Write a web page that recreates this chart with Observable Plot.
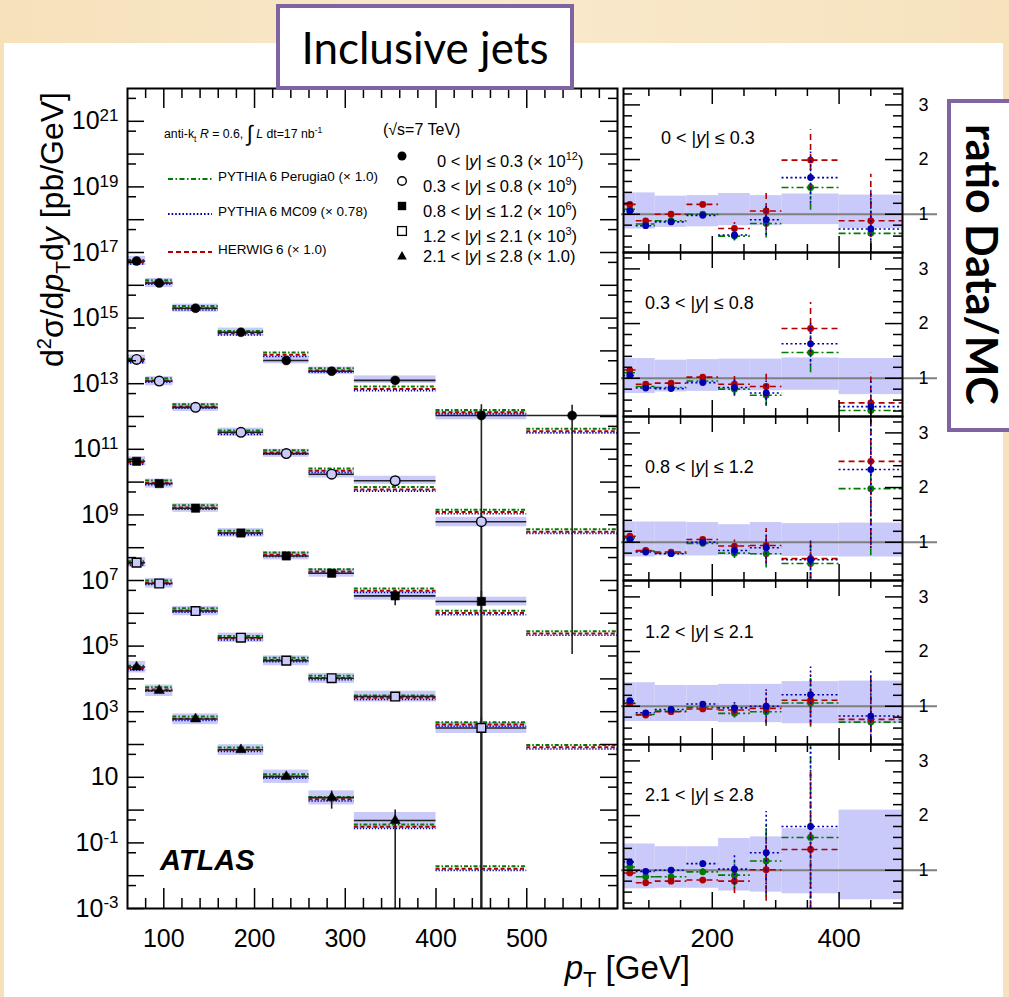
<!DOCTYPE html>
<html><head><meta charset="utf-8">
<script src="https://cdn.jsdelivr.net/npm/d3@7"></script>
<script src="https://cdn.jsdelivr.net/npm/@observablehq/plot@0.6"></script>
<style>
body{margin:0;}
#root{position:relative;width:1009px;height:997px;overflow:hidden;background:linear-gradient(90deg,#f6e1ba,#f9e9cc 50%,#f6e2bd);font-family:"Liberation Sans",Arial,sans-serif;color:#000;}
.abs{position:absolute;white-space:nowrap;}
</style></head><body><div id="root"></div><script>
// ---------------- data ----------------
const binLo  = [60, 80, 110, 160, 210, 260, 310, 400, 500];
const binHi  = [80, 110, 160, 210, 260, 310, 400, 500, 600];
const binMid = [70, 95, 135, 185, 235, 285, 355, 450, 550];

const rapidityBins = ["0 < |y| ≤ 0.3", "0.3 < |y| ≤ 0.8", "0.8 < |y| ≤ 1.2", "1.2 < |y| ≤ 2.1", "2.1 < |y| ≤ 2.8"];
const scaleFactors = ["(× 10^12)", "(× 10^9)", "(× 10^6)", "(× 10^3)", "(× 1.0)"];
const generators = ["PYTHIA 6 Perugia0 (× 1.0)", "PYTHIA 6 MC09 (× 0.78)", "HERWIG 6 (× 1.0)"];

// measured cross sections (already multiplied by the scale factor), pb/GeV
const data_y03 = [5.5e16, 1.17e16, 2.0e15, 3.7e14, 5.1e13, 2.4e13, 1.26e13, 1.07e12, 1.07e12];
const data_y08 = [5.5e13, 1.2e13, 1.9e12, 3.3e11, 7.4e10, 1.74e10, 1.1e10, 6.2e8, null];
const data_y12 = [4.3e10, 9.0e9, 1.6e9, 2.8e8, 5.6e7, 1.66e7, 3.4e6, 2.3e6, null];
const data_y21 = [3.5e7, 8.1e6, 1.17e6, 1.8e5, 3.6e4, 1.05e4, 2.9e3, 3.2e2, null];
const data_y28 = [2.3e4, 4.4e3, 6.0e2, 69, 10.5, 2.4, 0.48, null, null];

// MC prediction level in the main panel
const mc_y03 = [5.2e16, 1.26e16, 2.05e15, 3.55e14, 7.9e13, 2.6e13, 7.2e12, 1.4e12, 3.7e11];
const mc_y08 = [5.1e13, 1.3e13, 2.1e12, 3.3e11, 8.3e10, 2.3e10, 6.2e9, 1.26e9, 3.2e8];
const mc_y12 = [4.1e10, 9.8e9, 1.75e9, 2.9e8, 6.3e7, 1.95e7, 5.0e6, 1.05e6, 2.5e5];
const mc_y21 = [3.4e7, 8.8e6, 1.25e6, 1.8e5, 3.9e4, 1.1e4, 2.75e3, 4.2e2, 85];
const mc_y28 = [2.2e4, 4.9e3, 6.3e2, 72, 11, 2.2, 0.32, 0.017, null];

// visible statistical error bars in the main panel (1e-5 = consistent with zero)
const errLo_y03 = [null, null, null, null, null, null, null, 1e-5, 5.5e4];
const errHi_y03 = [null, null, null, null, null, null, null, 2.3e12, 2.2e12];
const errLo_y08 = [null, null, null, null, null, null, null, 1e-5, null];
const errHi_y08 = [null, null, null, null, null, null, null, 1.25e9, null];
const errLo_y12 = [null, null, null, null, null, null, 1.7e6, 1e-5, null];
const errHi_y12 = [null, null, null, null, null, null, 5.0e6, 4.6e6, null];
const errLo_y21 = [null, null, null, null, null, null, null, 1e-5, null];
const errHi_y21 = [null, null, null, null, null, null, null, 6.5e2, null];
const errLo_y28 = [null, null, null, null, null, 1.07, 1e-5, null, null];
const errHi_y28 = [null, null, null, null, null, 3.8, 1.0, null, null];

// ratio Data/MC (bins 60-500 GeV)
const herwig_y03  = [1.18, 0.88, 1.00, 1.18, 0.74, 1.06, 1.99, 0.88];
const mc09_y03    = [1.06, 0.79, 0.86, 0.98, 0.62, 0.90, 1.67, 0.73];
const perugia_y03 = [1.09, 0.82, 0.88, 1.00, 0.60, 0.83, 1.49, 0.65];
const herwig_y08  = [1.15, 0.89, 0.91, 1.02, 0.89, 0.85, 1.91, 0.55];
const mc09_y08    = [1.05, 0.82, 0.81, 0.92, 0.83, 0.73, 1.63, 0.48];
const perugia_y08 = [1.10, 0.85, 0.83, 0.95, 0.80, 0.69, 1.47, 0.41];
const herwig_y12  = [1.11, 0.85, 0.82, 1.05, 0.93, 0.94, 0.70, 2.48];
const mc09_y12    = [1.05, 0.82, 0.79, 1.00, 0.85, 0.90, 0.68, 2.33];
const perugia_y12 = [1.08, 0.84, 0.80, 0.98, 0.80, 0.79, 0.61, 1.98];
const herwig_y21  = [1.05, 0.84, 0.90, 0.95, 0.93, 0.96, 1.11, 0.76];
const mc09_y21    = [1.10, 0.88, 0.94, 1.04, 0.97, 1.00, 1.21, 0.82];
const perugia_y21 = [1.06, 0.85, 0.91, 0.98, 0.87, 0.90, 1.06, 0.71];
const herwig_y28  = [0.95, 0.77, 0.80, 0.82, 0.80, 1.01, 1.38, null];
const mc09_y28    = [1.15, 0.98, 1.00, 1.12, 1.02, 1.32, 1.80, null];
const perugia_y28 = [1.06, 0.88, 0.88, 0.97, 0.91, 1.17, 1.60, null];

// relative statistical uncertainty of the data (ratio error bars)
const stat_y03 = [0.02, 0.02, 0.03, 0.03, 0.15, 0.32, 0.28, 0.97];
const stat_y08 = [0.02, 0.02, 0.03, 0.03, 0.17, 0.30, 0.25, 1.0];
const stat_y12 = [0.02, 0.02, 0.03, 0.03, 0.12, 0.33, 0.52, 0.62];
const stat_y21 = [0.02, 0.02, 0.03, 0.04, 0.10, 0.30, 0.42, 1.05];
const stat_y28 = [0.02, 0.03, 0.03, 0.06, 0.28, 0.57, 1.05, null];

// systematic uncertainty band (relative lower / upper edge)
const sysLo_y03 = [0.73, 0.73, 0.76, 0.77, 0.79, 0.79, 0.81, 0.74];
const sysHi_y03 = [1.39, 1.39, 1.33, 1.34, 1.38, 1.34, 1.37, 1.35];
const sysLo_y08 = [0.72, 0.72, 0.75, 0.76, 0.77, 0.77, 0.78, 0.70];
const sysHi_y08 = [1.36, 1.36, 1.33, 1.34, 1.35, 1.35, 1.37, 1.36];
const sysLo_y12 = [0.73, 0.73, 0.75, 0.75, 0.76, 0.76, 0.74, 0.73];
const sysHi_y12 = [1.37, 1.37, 1.37, 1.36, 1.32, 1.36, 1.34, 1.35];
const sysLo_y21 = [0.72, 0.72, 0.72, 0.72, 0.70, 0.70, 0.68, 0.68];
const sysHi_y21 = [1.43, 1.43, 1.38, 1.38, 1.40, 1.40, 1.45, 1.46];
const sysLo_y28 = [0.66, 0.66, 0.67, 0.67, 0.62, 0.60, 0.57, 0.46];
const sysHi_y28 = [1.48, 1.48, 1.43, 1.43, 1.58, 1.61, 1.76, 2.10];

// axis tick labels
const yTickExponents = [-3, -1, 1, 3, 5, 7, 9, 11, 13, 15, 17, 19, 21];
const xTickLabels = [100, 200, 300, 400, 500];
const ratioXTickLabels = [200, 400];
const ratioYTickLabels = [1, 2, 3];

// ---------------- styling ----------------
const BAND = "rgb(201,201,250)";
const GREEN = "#007a00", BLUE = "#0000b0", RED = "#b00000";
const FONT = "Liberation Sans, Arial, sans-serif";
const root = document.getElementById("root");
const NS = "http://www.w3.org/2000/svg";

function rich(svg) {
  svg.querySelectorAll("text").forEach(t => {
    const s = t.textContent;
    if (!s.includes("^")) return;
    const i = s.indexOf("^");
    t.textContent = "";
    const a = document.createElementNS(NS, "tspan"); a.textContent = s.slice(0, i);
    const b = document.createElementNS(NS, "tspan"); b.textContent = s.slice(i + 1);
    b.setAttribute("dy", "-0.48em"); b.setAttribute("font-size", "68%");
    t.append(a, b);
  });
}
function place(el, left, top) {
  el.style.position = "absolute"; el.style.left = left + "px"; el.style.top = top + "px";
  root.appendChild(el); return el;
}
function html(left, top, inner, style = "") {
  const d = document.createElement("div");
  d.className = "abs"; d.style.cssText += `left:${left}px;top:${top}px;${style}`;
  d.innerHTML = inner; root.appendChild(d); return d;
}

// white sheet
html(4, 43, "", "width:999px;height:960px;background:#fff;");

// ---------------- main panel ----------------
const series = [
  {data: data_y03, mc: mc_y03, eLo: errLo_y03, eHi: errHi_y03, sLo: sysLo_y03, sHi: sysHi_y03, symbol: "circle", filled: true, r: 4.5},
  {data: data_y08, mc: mc_y08, eLo: errLo_y08, eHi: errHi_y08, sLo: sysLo_y08, sHi: sysHi_y08, symbol: "circle", filled: false, r: 4.8},
  {data: data_y12, mc: mc_y12, eLo: errLo_y12, eHi: errHi_y12, sLo: sysLo_y12, sHi: sysHi_y12, symbol: "square", filled: true, r: 4.7},
  {data: data_y21, mc: mc_y21, eLo: errLo_y21, eHi: errHi_y21, sLo: sysLo_y21, sHi: sysHi_y21, symbol: "square", filled: false, r: 4.9},
  {data: data_y28, mc: mc_y28, eLo: errLo_y28, eHi: errHi_y28, sLo: sysLo_y28, sHi: sysHi_y28, symbol: "triangle", filled: true, r: 3.8}
];
const rows = [];
series.forEach((s, si) => binLo.forEach((lo, i) => rows.push({
  si, lo, hi: binHi[i], mid: binMid[i], v: s.data[i], mc: s.mc[i],
  eLo: s.eLo[i], eHi: s.eHi[i], sLo: s.sLo[i], sHi: s.sHi[i]
})));
const dataRows = rows.filter(d => d.v != null);
const mcRows = rows.filter(d => d.mc != null);
const bandRows = dataRows.filter(d => d.sLo != null);
const errRows = rows.filter(d => d.eLo != null);

const W = 640, H = 997, ML = 127, MR = 23, MT = 88, MB = 89;
const FW = W - ML - MR, FH = H - MT - MB;
const decades = d3.range(-3, 22).map(e => +("1e" + e));
const halfDecades = d3.range(-3, 22).map(e => +("5e" + e));
const xMinor = d3.range(80, 600, 20).filter(v => v % 100 !== 0);
const xMajor = d3.range(100, 600, 100);

const dotMarks = series.map((s, si) => Plot.dot(dataRows.filter(d => d.si === si), {
  x: "mid", y: "v", symbol: s.symbol, r: s.r,
  fill: s.filled ? "black" : BAND, stroke: "black", strokeWidth: s.filled ? 0.5 : 1.4
}));

const mainPlot = Plot.plot({
  width: W, height: H, marginLeft: ML, marginRight: MR, marginTop: MT, marginBottom: MB,
  x: {type: "linear", domain: [60, 600]},
  y: {type: "log", domain: [1e-3, 1e22]},
  style: {background: "transparent", fontFamily: FONT, color: "black", overflow: "visible"},
  marks: [
    Plot.rect(bandRows, {x1: "lo", x2: "hi", y1: d => d.v * d.sLo, y2: d => d.v * d.sHi, fill: BAND}),
    Plot.ruleY(mcRows, {x1: "lo", x2: "hi", y: "mc", stroke: RED, strokeWidth: 2, strokeDasharray: "4,2.5", dy: 0.5}),
    Plot.ruleY(mcRows, {x1: "lo", x2: "hi", y: "mc", stroke: GREEN, strokeWidth: 2, strokeDasharray: "4,2,1.5,2", dy: -1.8}),
    Plot.ruleY(mcRows, {x1: "lo", x2: "hi", y: "mc", stroke: BLUE, strokeWidth: 1.6, strokeDasharray: "1.3,1.7", dy: 2.2}),
    Plot.ruleY(dataRows, {x1: "lo", x2: "hi", y: "v", stroke: "#222", strokeWidth: 1.6}),
    Plot.ruleX(errRows, {x: "mid", y1: "eLo", y2: "eHi", stroke: "#222", strokeWidth: 1.6, clip: true}),
    ...dotMarks,
    Plot.tickY(decades, {y: d => d, insetRight: FW - 17, strokeWidth: 1.5}),
    Plot.tickY(halfDecades, {y: d => d, insetRight: FW - 9, strokeWidth: 1.5}),
    Plot.tickY(decades, {y: d => d, insetLeft: FW - 17, strokeWidth: 1.5}),
    Plot.tickY(halfDecades, {y: d => d, insetLeft: FW - 9, strokeWidth: 1.5}),
    Plot.tickX(xMajor, {x: d => d, insetTop: FH - 20, strokeWidth: 1.5}),
    Plot.tickX(xMinor, {x: d => d, insetTop: FH - 10, strokeWidth: 1.5}),
    Plot.tickX(xMajor, {x: d => d, insetBottom: FH - 20, strokeWidth: 1.5}),
    Plot.tickX(xMinor, {x: d => d, insetBottom: FH - 10, strokeWidth: 1.5}),
    Plot.frame({stroke: "black", strokeWidth: 2}),
    Plot.axisY(yTickExponents.map(e => +("1e" + e)), {anchor: "left", tickSize: 0, tickPadding: 9, fontSize: 25, label: null,
      tickFormat: d => { const e = Math.round(Math.log10(d)); return e === 1 ? "10" : "10^" + e; }}),
    Plot.axisX(xTickLabels, {anchor: "bottom", tickSize: 0, tickPadding: 21, fontSize: 25, label: null})
  ]
});
rich(mainPlot);
place(mainPlot, 0, 0);

// ---------------- ratio panels ----------------
const panels = [
  {herwig: herwig_y03, mc09: mc09_y03, perugia: perugia_y03, stat: stat_y03, sLo: sysLo_y03, sHi: sysHi_y03},
  {herwig: herwig_y08, mc09: mc09_y08, perugia: perugia_y08, stat: stat_y08, sLo: sysLo_y08, sHi: sysHi_y08},
  {herwig: herwig_y12, mc09: mc09_y12, perugia: perugia_y12, stat: stat_y12, sLo: sysLo_y12, sHi: sysHi_y12},
  {herwig: herwig_y21, mc09: mc09_y21, perugia: perugia_y21, stat: stat_y21, sLo: sysLo_y21, sHi: sysHi_y21},
  {herwig: herwig_y28, mc09: mc09_y28, perugia: perugia_y28, stat: stat_y28, sLo: sysLo_y28, sHi: sysHi_y28}
];
const genStyle = [
  {key: "perugia", color: GREEN, dash: "7,3,2,3"},
  {key: "herwig", color: RED, dash: "6,4"},
  {key: "mc09", color: BLUE, dash: "2,2.5"}
];
const RW = 360, RML = 23, RMR = 58, PH = 164;
const RFW = RW - RML - RMR;
const rxMinor = [100, 150, 250, 300, 350, 450];
const rxMajor = [200, 400];
const ryMinor = d3.range(4, 33, 2).map(v => v / 10).filter(v => v % 1 !== 0);
const ryMajor = [1, 2, 3];

panels.forEach((p, k) => {
  const last = k === panels.length - 1;
  const mb = last ? 44 : 0;
  const bins = binLo.slice(0, 8).map((lo, i) => ({lo, hi: binHi[i], mid: binMid[i], sLo: p.sLo[i], sHi: p.sHi[i]}));
  const marks = [
    Plot.rect(bins, {x1: "lo", x2: "hi", y1: "sLo", y2: "sHi", fill: BAND}),
    Plot.ruleY([1], {stroke: "#7f7f7f", strokeWidth: 2, insetLeft: -2, insetRight: -35})
  ];
  genStyle.forEach(g => {
    const pts = bins.map((b, i) => ({...b, r: p[g.key][i], s: p.stat[i]})).filter(d => d.r != null);
    marks.push(
      Plot.ruleY(pts, {x1: "lo", x2: "hi", y: "r", stroke: g.color, strokeWidth: 1.6, strokeDasharray: g.dash, clip: true}),
      Plot.ruleX(pts, {x: "mid", y1: d => d.r * (1 - d.s), y2: d => d.r * (1 + d.s), stroke: g.color, strokeWidth: 1.6, strokeDasharray: g.dash, clip: true}),
      Plot.dot(pts, {x: "mid", y: "r", r: 3.4, fill: g.color, clip: true})
    );
  });
  const ph = PH;
  marks.push(
    Plot.tickX(rxMajor, {x: d => d, insetTop: ph - 16, strokeWidth: 1.5}),
    Plot.tickX(rxMinor, {x: d => d, insetTop: ph - 8, strokeWidth: 1.5}),
    Plot.tickX(rxMajor, {x: d => d, insetBottom: ph - 16, strokeWidth: 1.5}),
    Plot.tickX(rxMinor, {x: d => d, insetBottom: ph - 8, strokeWidth: 1.5}),
    Plot.tickY(ryMajor, {y: d => d, insetRight: RFW - 17, strokeWidth: 1.5}),
    Plot.tickY(ryMinor, {y: d => d, insetRight: RFW - 9, strokeWidth: 1.5}),
    Plot.tickY(ryMajor, {y: d => d, insetLeft: RFW - 17, strokeWidth: 1.5}),
    Plot.tickY(ryMinor, {y: d => d, insetLeft: RFW - 9, strokeWidth: 1.5}),
    Plot.frame({stroke: "black", strokeWidth: 2}),
    Plot.axisY(ratioYTickLabels, {anchor: "right", tickSize: 0, tickPadding: 16, fontSize: 18, label: null, tickFormat: d => String(d)})
  );
  if (last) marks.push(Plot.axisX(ratioXTickLabels, {anchor: "bottom", tickSize: 0, tickPadding: 20, fontSize: 26, label: null, tickFormat: d => String(d)}));
  else marks.push(Plot.axisX([], {anchor: "bottom", label: null}));
  const svg = Plot.plot({
    width: RW, height: ph + mb, marginLeft: RML, marginRight: RMR, marginTop: 0, marginBottom: mb,
    x: {type: "linear", domain: [60, 500]},
    y: {type: "linear", domain: [0.3, 3.3]},
    style: {background: "transparent", fontFamily: FONT, color: "black", overflow: "visible"},
    marks
  });
  place(svg, 600, 88 + k * PH);
});

// ---------------- texts & legends ----------------
const panelLabelPos = [[661, 127], [645, 292], [645, 456], [645, 621], [645, 784]];
rapidityBins.forEach((lab, k) => {
  const t = lab.replace("y", "<i>y</i>");
  html(panelLabelPos[k][0], panelLabelPos[k][1], t, "font-size:18px;line-height:22px;");
});

// legend left
html(164, 120, 'anti-k<sub style="font-size:8.5px">t</sub> <i>R</i> = 0.6, <span style="font-size:22px;position:relative;top:3px">∫</span> <i>L</i> dt=17 nb<sup style="font-size:8.5px">-1</sup>', "font-size:12.3px;line-height:20px;");
const legLines = [[GREEN, "5,2.5,1.5,2.5", 177], [BLUE, "1.6,2", 212], [RED, "5,3", 250]];
legLines.forEach(([c, dash, y], i) => {
  html(166, y - 6, `<svg width="48" height="12"><line x1="2" x2="46" y1="6" y2="6" stroke="${c}" stroke-width="2" stroke-dasharray="${dash}"/></svg>`);
  html(218, y - 9, generators[i].replace("PYTHIA 6", "PYTHIA&thinsp;6").replace("HERWIG 6", "HERWIG&thinsp;6"), "font-size:13.5px;line-height:17px;");
});

// legend right
html(383, 120, "(√s=7 TeV)", "font-size:16px;line-height:19px;");
const legRowY = [156, 181, 206, 231, 256];
const legMarkers = [
  '<circle cx="8" cy="8" r="4.5" fill="black"/>',
  '<circle cx="8" cy="8" r="4.3" fill="white" stroke="black" stroke-width="1.4"/>',
  '<rect x="3.8" y="3.8" width="8.4" height="8.4" fill="black"/>',
  '<rect x="3.6" y="3.6" width="8.8" height="8.8" fill="white" stroke="black" stroke-width="1.3"/>',
  '<path d="M8,3 L12.8,11.5 L3.2,11.5 Z" fill="black"/>'
];
rapidityBins.forEach((lab, k) => {
  html(394, legRowY[k] - 8, `<svg width="16" height="16">${legMarkers[k]}</svg>`);
  const sf = scaleFactors[k].replace(/\^(\d+)/, "<sup style='font-size:11px'>$1</sup>");
  html(k === 0 ? 437 : 423, legRowY[k] - 10, lab.replace("y", "<i>y</i>") + " " + sf, "font-size:16.5px;line-height:20px;");
});

// ATLAS
html(160, 843, "ATLAS", "font-size:29px;font-weight:bold;font-style:italic;line-height:34px;");

// axis titles
html(22, 392, '<div style="width:300px;text-align:right;">d<sup style="font-size:20px">2</sup>σ/d<i>p</i><sub style="font-size:21px">T</sub>d<i>y</i> [pb/GeV]</div>',
  "font-size:32px;line-height:44px;transform-origin:0 0;transform:rotate(-90deg);");
html(390, 947, '<div style="width:300px;text-align:right;"><i>p</i><sub style="font-size:22px">T</sub> [GeV]</div>', "font-size:33px;line-height:42px;");

// title boxes
html(276, 4, "Inclusive jets", "box-sizing:border-box;width:298px;height:86px;border:4px solid #8064a2;background:#fff;font-family:Lato,'Open Sans',sans-serif;font-size:44px;line-height:78px;text-align:center;");
html(947, 99, '<div style="writing-mode:vertical-rl;height:323px;width:62px;text-align:center;line-height:62px;">ratio Data/MC</div>',
  "box-sizing:border-box;width:90px;height:333px;border:4px solid #8064a2;background:#fff;font-family:Lato,'Open Sans',sans-serif;font-size:43px;font-weight:bold;");
</script></body></html>
